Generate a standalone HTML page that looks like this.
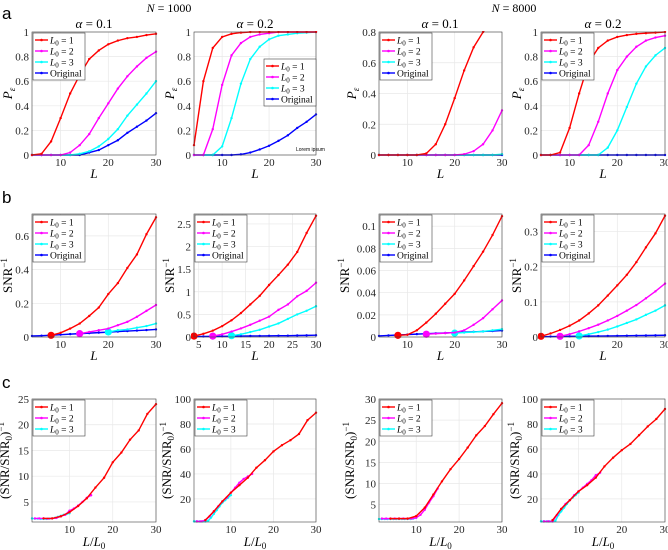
<!DOCTYPE html>
<html><head><meta charset="utf-8"><style>
body{margin:0;background:#fff;}
svg{display:block;font-family:"Liberation Serif",serif;}
</style></head><body>
<svg id="fig" width="668" height="550" viewBox="0 0 668 550"></svg>
<script>
const L=[4,6,8,10,12,14,16,18,20,22,24,26,28,30];
const xTicksA=[10,20,30];
const xTicksB2=[5,10,15,20,25,30];
// Row a: P_e
const a1R=[0,0.01,0.11,0.3,0.5,0.65,0.78,0.85,0.9,0.93,0.95,0.96,0.975,0.985];
const a1M=[0,0,0,0,0.02,0.08,0.17,0.3,0.42,0.54,0.64,0.72,0.79,0.84];
const a1C=[0,0,0,0,0,0.01,0.03,0.07,0.13,0.21,0.32,0.41,0.5,0.6];
const a1B=[0,0,0,0,0,0,0.02,0.04,0.08,0.12,0.18,0.23,0.28,0.34];
const a2R=[0.08,0.6,0.87,0.96,0.985,0.995,1,1,1,1,1,1,1,1];
const a2M=[0,0,0.21,0.57,0.81,0.91,0.96,0.98,0.99,1,1,1,1,1];
const a2C=[0,0,0,0.07,0.3,0.58,0.78,0.88,0.94,0.97,0.98,0.99,0.995,1];
const a2B=[0,0,0,0,0,0.005,0.02,0.045,0.075,0.115,0.16,0.22,0.27,0.33];
const a3R=[0,0,0,0,0,0.01,0.07,0.2,0.37,0.55,0.7,0.8,0.88,0.93];
const a3M=[0,0,0,0,0,0,0,0,0,0.005,0.025,0.07,0.16,0.29];
const a3C=[0,0,0,0,0,0,0,0,0,0,0,0,0,0.005];
const a3B=[0,0,0,0,0,0,0,0,0,0,0,0,0,0];
const a4R=[0,0,0.02,0.22,0.5,0.75,0.87,0.93,0.96,0.975,0.985,0.99,0.995,1];
const a4M=[0,0,0,0,0,0.08,0.27,0.5,0.69,0.8,0.88,0.93,0.955,0.97];
const a4C=[0,0,0,0,0,0,0,0.06,0.2,0.39,0.58,0.72,0.81,0.87];
const a4B=[0,0,0,0,0,0,0,0,0,0,0,0,0,0];
// Row b: SNR^-1
const b1R=[null,null,0.01,0.025,0.05,0.08,0.125,0.175,0.255,0.32,0.41,0.49,0.61,0.71];
const b1M=[null,null,null,null,null,0.02,0.03,0.04,0.05,0.07,0.09,0.12,0.155,0.19];
const b1C=[null,null,null,null,null,null,null,null,0.03,0.04,0.045,0.055,0.065,0.08];
const b1B=[0.006,0.008,0.011,0.014,0.017,0.02,0.023,0.026,0.029,0.032,0.035,0.038,0.041,0.045];
const b2R=[0.02,0.07,0.14,0.24,0.37,0.53,0.72,0.91,1.15,1.37,1.6,1.88,2.3,2.68];
const b2M=[null,null,0.02,0.06,0.12,0.19,0.27,0.36,0.45,0.6,0.72,0.9,1.02,1.2];
const b2C=[null,null,null,null,0.03,0.06,0.11,0.16,0.23,0.3,0.4,0.5,0.58,0.68];
const b2B=[0.01,0.012,0.014,0.016,0.018,0.02,0.022,0.024,0.026,0.028,0.03,0.033,0.036,0.04];
const b3R=[null,null,0.0015,0.002,0.006,0.013,0.021,0.03,0.039,0.051,0.064,0.077,0.092,0.109];
const b3M=[null,null,null,null,null,0.0025,0.003,0.0035,0.004,0.006,0.011,0.017,0.025,0.033];
const b3C=[null,null,null,null,null,null,null,null,0.0035,0.004,0.0045,0.005,0.006,0.007];
const b3B=[0.001,0.0014,0.0018,0.0022,0.0026,0.003,0.0033,0.0036,0.004,0.0044,0.0047,0.005,0.0054,0.0058];
const b4R=[0.002,0.01,0.02,0.032,0.047,0.067,0.09,0.118,0.147,0.177,0.213,0.255,0.295,0.345];
const b4M=[null,null,0.002,0.008,0.016,0.025,0.035,0.047,0.06,0.075,0.091,0.11,0.13,0.152];
const b4C=[null,null,null,null,0.003,0.008,0.014,0.021,0.03,0.04,0.05,0.063,0.075,0.09];
const b4B=[0.001,0.0013,0.0016,0.0019,0.0022,0.0025,0.0028,0.0031,0.0034,0.0037,0.004,0.0043,0.0046,0.005];
// Row c: (SNR/SNR0)^-1 vs L/L0
const cXR=[4,6,8,10,12,14,16,18,20,22,24,26,28,30];
const cXM=[2,3,4,5,6,7,8,9,10,11,12,13,14,15];
const cXC=[1.33,2,2.67,3.33,4,4.67,5.33,6,6.67,7.33,8,8.67,9.33,10];
const c1R=[1.8,1.8,2.2,3.0,4.2,5.7,7.8,9.7,12.7,14.6,17.1,18.9,22.1,24];
const c1M=[1.8,1.8,1.8,1.75,1.8,1.9,2.2,2.5,3.3,3.7,4.3,5.0,5.8,6.3];
const c1C=[1.8,1.75,1.75,1.7,1.7,1.7,1.75,1.8,1.9,2.1,2.3,2.5,2.65,2.8];
const c2R=[3,10,18,25,31,37,45,51,58,63,67,72,83,89];
const c2M=[2,2,3,6,10,14,18,21,25,29,33,36,38,40];
const c2C=[2,2,2,2,2,2.5,5,8,11,14,17,19,21,23];
const c3R=[1.7,1.7,1.7,2.3,4.3,7.4,10.5,13.4,15.8,18.5,21.4,23.6,26.4,29];
const c3M=[1.7,1.7,1.7,1.7,1.7,1.7,1.7,1.7,1.9,2.6,3.8,5.5,7,8.8];
const c3C=[1.6,1.6,1.6,1.6,1.6,1.6,1.6,1.6,1.6,1.6,1.6,1.6,1.7,1.9];
const c4R=[3,12,19,26,31,37,46,53,59,64,71,78,84,92];
const c4M=[2,2,2,7,12,16,19,23,26,29,32,35,39,41];
const c4C=[2,2,2,2,2,2.5,7,10,13,16,19,21,23,25];

const NS="http://www.w3.org/2000/svg";
const svg=document.getElementById('fig');
function el(tag,attrs,parent){const e=document.createElementNS(NS,tag);for(const k in attrs)e.setAttribute(k,attrs[k]);(parent||svg).appendChild(e);return e;}
const COL={R:'#ff0000',M:'#ff00ff',C:'#00ffff',B:'#0000ff'};
let clipId=0;

function panel(p){
  const g=el('g',{});
  
  
  const sx=v=>p.x0+(v-p.xd[0])/(p.xd[1]-p.xd[0])*(p.x1-p.x0);
  const sy=v=>p.y1-(v-p.yd[0])/(p.yd[1]-p.yd[0])*(p.y1-p.y0);
  el('rect',{x:p.x0,y:p.y0,width:p.x1-p.x0,height:p.y1-p.y0,fill:'#fff'},g);
  p.xt.forEach(t=>{const X=sx(t);
    const gl=el('line',{x1:X,x2:X,y1:p.y0,y2:p.y1,stroke:'#e8e8e8','stroke-width':0.7},g);
    
    const tl=el('text',{x:X,y:p.y1+11,'font-size':11,'text-anchor':'middle',fill:'#262626'},g);tl.textContent=t;
    
  });
  p.yt.forEach((t,i)=>{const Y=sy(t);
    const gl=el('line',{x1:p.x0,x2:p.x1,y1:Y,y2:Y,stroke:'#e8e8e8','stroke-width':0.7},g);
    
    const tl=el('text',{x:p.x0-3,y:Y+4,'font-size':11,'text-anchor':'end',fill:'#262626'},g);tl.textContent=p.ytl[i];
    
  });
  const cid='clip'+(clipId++);
  const cp=el('clipPath',{id:cid},g);el('rect',{x:p.x0-3,y:p.y0-1,width:p.x1-p.x0+6,height:p.y1-p.y0+4},cp);
  const sg=el('g',{'clip-path':'url(#'+cid+')'},g);
  p.series.forEach(s=>{
    const pts=[];s.y.forEach((v,i)=>{if(v!==null&&v!==undefined)pts.push([sx(s.x[i]),sy(v)]);});
    const pl=el('polyline',{points:pts.map(q=>q.join(',')).join(' '),fill:'none',stroke:COL[s.c],'stroke-width':1.4},sg);
    
    pts.forEach(q=>{const m=el('circle',{cx:q[0],cy:q[1],r:1.2,fill:COL[s.c]},sg);
      });
    if(s.big&&pts.length){const b=el('circle',{cx:pts[0][0],cy:pts[0][1],r:3.6,fill:COL[s.c]},sg);
      }
  });
  const fr=el('rect',{x:p.x0,y:p.y0,width:p.x1-p.x0,height:p.y1-p.y0,fill:'none',stroke:'#404040','stroke-width':0.6},g);
  
  const xl=el('text',{x:(p.x0+p.x1)/2,y:p.xly,'font-size':13,'text-anchor':'middle','font-style':'italic',fill:'#000'},g);
  
  if(p.xlab==='L'){xl.textContent='L';}
  else{xl.innerHTML='L<tspan font-style="normal">/</tspan>L<tspan font-size="9" dy="3" font-style="normal">0</tspan>';}
  const cy=(p.y0+p.y1)/2;
  const yl=el('text',{x:0,y:0,'font-size':13,'text-anchor':'middle',transform:'translate('+p.ylx+','+cy+') rotate(-90)',fill:'#000'},g);
  
  if(p.ylab==='P')yl.innerHTML='<tspan font-style="italic">P</tspan><tspan font-size="9" dy="3" font-style="italic">ε</tspan>';
  else if(p.ylab==='S')yl.innerHTML='SNR<tspan font-size="9" dy="-5">−1</tspan>';
  else yl.innerHTML='(SNR/SNR<tspan font-size="9" dy="3">0</tspan><tspan dy="-3">)</tspan><tspan font-size="9" dy="-5">−1</tspan>';
  const lg=el('g',{},g);
  const n=p.series.length;const lx=p.lx,ly=p.ly;
  el('rect',{x:lx,y:ly,width:52,height:n*11+3,fill:'#fff',stroke:'#404040','stroke-width':0.6},lg);
  const order=p.series.slice().sort((a,b)=>'RMCB'.indexOf(a.c)-'RMCB'.indexOf(b.c));
  order.forEach((s,i)=>{const Y=ly+7+i*11;
    const en=el('g',{},lg);
    el('line',{x1:lx+2,x2:lx+15,y1:Y,y2:Y,stroke:COL[s.c],'stroke-width':1.4},en);
    el('circle',{cx:lx+8.5,cy:Y,r:1.3,fill:COL[s.c]},en);
    const t=el('text',{x:lx+17,y:Y+3.5,'font-size':9.5},en);
    if(s.c==='B')t.textContent='Original';
    else t.innerHTML='<tspan font-style="italic">L</tspan><tspan font-size="7" dy="2">0</tspan><tspan dy="-2"> = '+({R:1,M:2,C:3})[s.c]+'</tspan>';
  });
}
function S(x,R,M,C,B,big){const a=[{x:x,y:R,c:'R',n:'l0-1',big:big},{x:x,y:M,c:'M',n:'l0-2',big:big},{x:x,y:C,c:'C',n:'l0-3',big:big}];
  if(B)a.push({x:x,y:B,c:'B',n:'original'});return a;}
const cols=[[32,156],[194,316],[379,502],[541,665]];
const ylxA=[12,174,356,521];
const ylxB=[12,174,349,521];
const ylxC=[9,171,354,519];
const aData=[[a1R,a1M,a1C,a1B],[a2R,a2M,a2C,a2B],[a3R,a3M,a3C,a3B],[a4R,a4M,a4C,a4B]];
const aY=[[0,1],[0,1],[0,0.8],[0,1]];
const aYt=[[0,0.2,0.4,0.6,0.8,1],[0,0.2,0.4,0.6,0.8,1],[0,0.2,0.4,0.6,0.8],[0,0.2,0.4,0.6,0.8,1]];
for(let i=0;i<4;i++){
  panel({name:'panel-a'+(i+1),x0:cols[i][0],x1:cols[i][1],y0:32,y1:155,xd:[4,30],yd:aY[i],xt:xTicksA,yt:aYt[i],ytl:aYt[i].map(String),
    series:S(L,...aData[i]).reverse(),xlab:'L',xly:178,ylab:'P',ylx:ylxA[i],lx:i===1?264:cols[i][0]+1,ly:i===1?59:33});
}
const bData=[[b1R,b1M,b1C,b1B],[b2R,b2M,b2C,b2B],[b3R,b3M,b3C,b3B],[b4R,b4M,b4C,b4B]];
const bY=[[0,0.73],[0,2.72],[0,0.111],[0,0.35]];
const bYt=[[0,0.2,0.4,0.6],[0,0.5,1,1.5,2,2.5],[0,0.02,0.04,0.06,0.08,0.1],[0,0.1,0.2,0.3]];
const bYtl=[['0','0.2','0.4','0.6'],['0','0.5','1','1.5','2','2.5'],['0','0.02','0.04','0.06','0.08','0.1'],['0','0.1','0.2','0.3']];
for(let i=0;i<4;i++){
  panel({name:'panel-b'+(i+1),x0:cols[i][0],x1:cols[i][1],y0:214,y1:337,xd:[4,30],yd:bY[i],xt:i===1?xTicksB2:xTicksA,yt:bYt[i],ytl:bYtl[i],
    series:S(L,...bData[i],true).reverse(),xlab:'L',xly:360,ylab:'S',ylx:ylxB[i],lx:cols[i][0]+1,ly:215});
}
const cData=[[c1R,c1M,c1C],[c2R,c2M,c2C],[c3R,c3M,c3C],[c4R,c4M,c4C]];
const cY=[[1.1,25],[1.5,100],[0.9,30],[1.5,100]];
const cYt=[[5,10,15,20,25],[20,40,60,80,100],[5,10,15,20,25,30],[20,40,60,80,100]];
for(let i=0;i<4;i++){
  const ser=[{x:cXC,y:cData[i][2],c:'C',n:'l0-3'},{x:cXM,y:cData[i][1],c:'M',n:'l0-2'},{x:cXR,y:cData[i][0],c:'R',n:'l0-1'}];
  panel({name:'panel-c'+(i+1),x0:cols[i][0],x1:cols[i][1],y0:399,y1:522,xd:[1.33,30],yd:cY[i],xt:xTicksA,yt:cYt[i],ytl:cYt[i].map(String),
    series:ser,xlab:'LL0',xly:546,ylab:'C',ylx:ylxC[i],lx:cols[i][0]+1,ly:400});
}
function txt(x,y,s,attrs,name){const t=el('text',Object.assign({x:x,y:y},attrs));t.innerHTML=s;return t;}
txt(2,19,'a',{'font-size':17,'font-family':'Liberation Sans, sans-serif'},'panel-letter-a');
txt(2,203,'b',{'font-size':17,'font-family':'Liberation Sans, sans-serif'},'panel-letter-b');
txt(2,388,'c',{'font-size':17,'font-family':'Liberation Sans, sans-serif'},'panel-letter-c');
txt(169,12,'<tspan font-style="italic">N</tspan> = 1000',{'font-size':12,'text-anchor':'middle'},'title-n1000');
txt(514,12,'<tspan font-style="italic">N</tspan> = 8000',{'font-size':12,'text-anchor':'middle'},'title-n8000');
const al=[['α = 0.1',94],['α = 0.2',255],['α = 0.1',440],['α = 0.2',603]];
al.forEach((a,i)=>txt(a[1],28,'<tspan font-style="italic">α</tspan> = '+a[0].slice(4),{'font-size':13,'text-anchor':'middle'},'alpha-title-'+(i+1)));
txt(296,151,'Lorem ipsum',{'font-size':5,'font-family':'Liberation Sans, sans-serif'},'annotation-lorem');
</script>
</body></html>
